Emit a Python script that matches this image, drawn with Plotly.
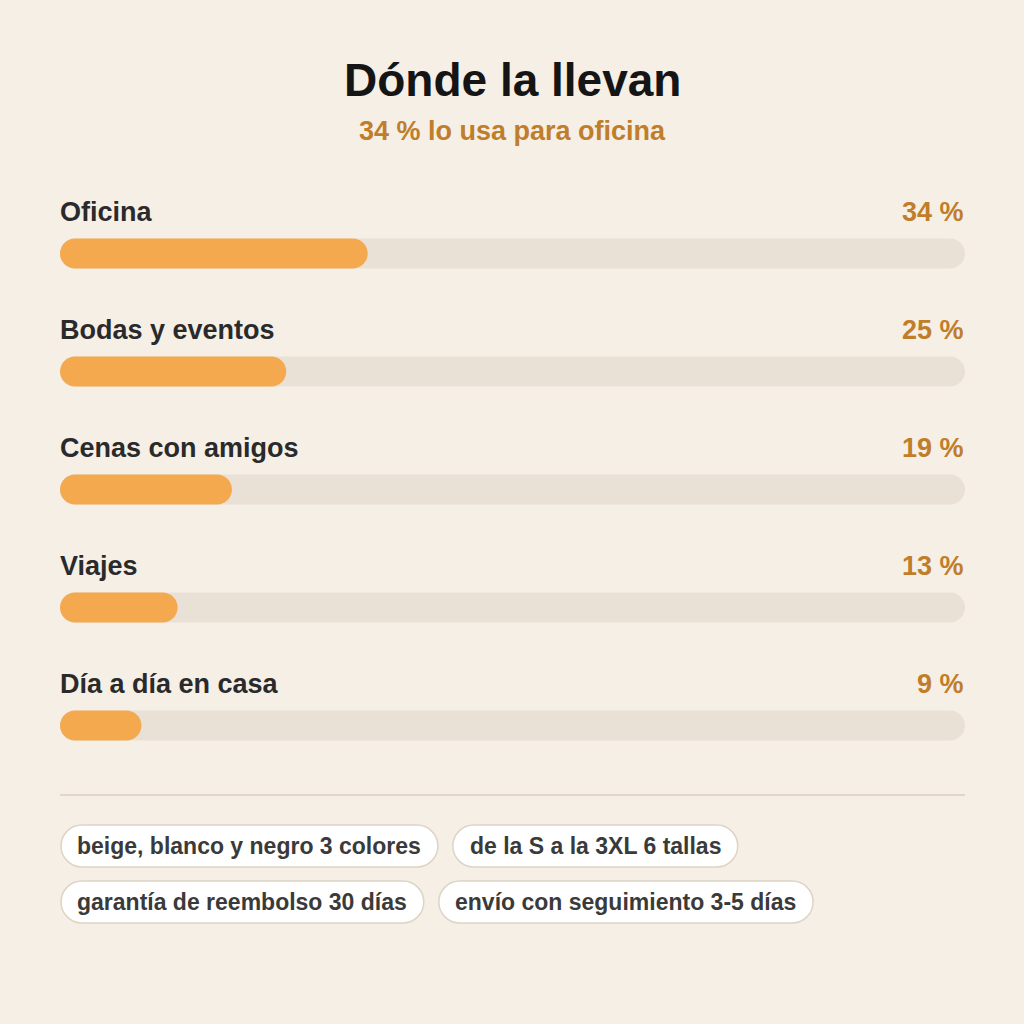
import plotly.graph_objects as go

# ---- data ----
categories = ["Oficina", "Bodas y eventos", "Cenas con amigos", "Viajes", "Día a día en casa"]
values = [34, 25, 19, 13, 9]
value_labels = ["34 %", "25 %", "19 %", "13 %", "9 %"]
title_text = "Dónde la llevan"
subtitle_text = "34 % lo usa para oficina"
chips_row1 = ["beige, blanco y negro 3 colores", "de la S a la 3XL 6 tallas"]
chips_row2 = ["garantía de reembolso 30 días", "envío con seguimiento 3-5 días"]

# ---- layout constants ----
W, H = 1024, 1024
L, R = 60, 965
PLOT_W = R - L
FONT = "Liberation Sans, Arial, sans-serif"
BG = "#f5efe6"
TRACK = "#e9e1d6"
FILL = "#f4a94e"
ACCENT = "#c07d2a"
K = 0.5523

def px2x(px):
    return (px - L) / PLOT_W * 100.0

def pill_path(x0, x1, y0, y1, rx):
    r = (y1 - y0) / 2.0
    return (
        f"M {x0+rx},{y0} L {x1-rx},{y0} "
        f"C {x1-rx+K*rx},{y0} {x1},{y0+r-K*r} {x1},{y0+r} "
        f"C {x1},{y0+r+K*r} {x1-rx+K*rx},{y1} {x1-rx},{y1} "
        f"L {x0+rx},{y1} "
        f"C {x0+rx-K*rx},{y1} {x0},{y1-r+K*r} {x0},{y1-r} "
        f"C {x0},{y0+r-K*r} {x0+rx-K*rx},{y0} {x0+rx},{y0} Z"
    )

# Liberation Sans Bold advance widths (per 1000 em)
WIDTHS = {" ": 278, ",": 278, "-": 333, "%": 889, "A": 722, "S": 667, "X": 667, "L": 611,
          "a": 556, "b": 611, "c": 556, "d": 611, "e": 556, "f": 333, "g": 611, "h": 611,
          "i": 278, "í": 278, "j": 278, "l": 278, "m": 889, "n": 611, "o": 611, "ó": 611,
          "p": 611, "r": 389, "s": 556, "t": 333, "u": 611, "v": 556, "y": 556}

def text_w(s, size):
    return sum(WIDTHS.get(c, 556 if c.isdigit() else 600) for c in s) * size / 1000.0

fig = go.Figure()
# invisible trace to establish axes
fig.add_trace(go.Scatter(x=[0, 100], y=[0, 0], mode="markers", marker=dict(opacity=0),
                         hoverinfo="skip", showlegend=False))

shapes = []
annotations = []

annotations.append(dict(text=f"<b>{title_text}</b>", x=0.5, xref="paper", y=80, yref="y",
                        showarrow=False, xanchor="center", yanchor="middle",
                        font=dict(family=FONT, size=46, color="#151515")))
annotations.append(dict(text=f"<b>{subtitle_text}</b>", x=0.5, xref="paper", y=131, yref="y",
                        showarrow=False, xanchor="center", yanchor="middle",
                        font=dict(family=FONT, size=27, color=ACCENT)))

ROW0_LABEL = 212
ROW0_BAR = 253.5
STEP = 118
BAR_H = 30
rx_bar = (BAR_H / 2) / PLOT_W * 100.0

for i, (cat, v, vl) in enumerate(zip(categories, values, value_labels)):
    ly = ROW0_LABEL + i * STEP
    by = ROW0_BAR + i * STEP
    annotations.append(dict(text=f"<b>{cat}</b>", x=0, xref="x", y=ly, yref="y",
                            showarrow=False, xanchor="left", yanchor="middle", xshift=-2,
                            font=dict(family=FONT, size=27, color="#2a2a2a")))
    annotations.append(dict(text=f"<b>{vl}</b>", x=100, xref="x", y=ly, yref="y",
                            showarrow=False, xanchor="right", yanchor="middle", xshift=1,
                            font=dict(family=FONT, size=27, color=ACCENT)))
    shapes.append(dict(type="path", xref="x", yref="y", layer="below",
                       path=pill_path(0, 100, by - BAR_H / 2, by + BAR_H / 2, rx_bar),
                       fillcolor=TRACK, line=dict(width=0)))
    shapes.append(dict(type="path", xref="x", yref="y", layer="below",
                       path=pill_path(0, v, by - BAR_H / 2, by + BAR_H / 2, rx_bar),
                       fillcolor=FILL, line=dict(width=0)))

# divider
shapes.append(dict(type="line", xref="x", yref="y", x0=0, x1=100, y0=795, y1=795,
                   line=dict(color="#e0d7ca", width=2)))

# chips
CHIP_FONT = 23
CHIP_PAD = 16.5
CHIP_GAP = 15
CHIP_H = 42
for row, cy in ((chips_row1, 846), (chips_row2, 902)):
    xpx = 61
    for t in row:
        w = text_w(t, CHIP_FONT) + 2 * CHIP_PAD
        rx = (CHIP_H / 2) / PLOT_W * 100.0
        shapes.append(dict(type="path", xref="x", yref="y", layer="below",
                           path=pill_path(px2x(xpx), px2x(xpx + w), cy - CHIP_H / 2, cy + CHIP_H / 2, rx),
                           fillcolor="#ffffff", line=dict(color="#ddd4c6", width=1.5)))
        annotations.append(dict(text=f"<b>{t}</b>", x=px2x(xpx + w / 2), xref="x", y=cy, yref="y",
                                showarrow=False, xanchor="center", yanchor="middle",
                                font=dict(family=FONT, size=CHIP_FONT, color="#3a3a3a")))
        xpx += w + CHIP_GAP

fig.update_layout(
    width=W, height=H,
    margin=dict(l=L, r=W - R, t=0, b=0),
    paper_bgcolor=BG, plot_bgcolor=BG,
    xaxis=dict(range=[0, 100], visible=False, fixedrange=True),
    yaxis=dict(range=[H, 0], visible=False, fixedrange=True),
    shapes=shapes, annotations=annotations,
    showlegend=False,
)

fig.write_html("out.html", include_plotlyjs=True, config={"displayModeBar": False})
